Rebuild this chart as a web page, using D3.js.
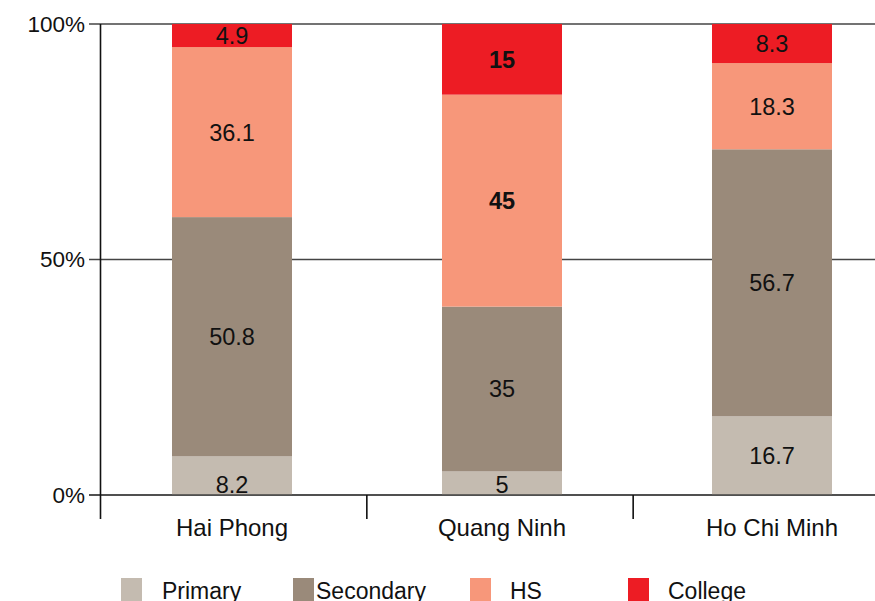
<!DOCTYPE html>
<html>
<head>
<meta charset="utf-8">
<script src="https://cdn.jsdelivr.net/npm/d3@7/dist/d3.min.js"></script>
<style>
  html, body { margin: 0; padding: 0; background: #fff; }
  svg { display: block; font-family: "Liberation Sans", Arial, sans-serif; }
</style>
</head>
<body>
<svg id="chart" width="875" height="601"></svg>
<script>
// Education level shares by city (percent)
const cities = ["Hai Phong", "Quang Ninh", "Ho Chi Minh"];
const levels = ["Primary", "Secondary", "HS", "College"];
const primary   = [8.2, 5, 16.7];
const secondary = [50.8, 35, 56.7];
const hs        = [36.1, 45, 18.3];
const college   = [4.9, 15, 8.3];
const boldCity  = ["Quang Ninh"];
const yTicks = [0, 50, 100];

const colors = {
  Primary: "#c4bbb0",
  Secondary: "#9a8a7a",
  HS: "#f7977a",
  College: "#ed1c24"
};

const rows = cities.map((c, i) => ({
  city: c,
  Primary: primary[i],
  Secondary: secondary[i],
  HS: hs[i],
  College: college[i]
}));

const svg = d3.select("#chart");
const plotLeft = 100, plotTop = 24, plotBottom = 495;
const fontSize = 23.5;

// category slots (for separators) and bar centres
const band = d3.scaleBand().domain(cities).range([plotLeft, 899]);
const xc = d3.scalePoint().domain(cities).range([232, 772]);
const y = d3.scaleLinear().domain([0, 100]).range([plotBottom, plotTop]);
const barW = 120;

// gridlines + y tick marks
svg.append("g").selectAll("line").data(yTicks).join("line")
  .attr("x1", plotLeft - 11).attr("x2", 875)
  .attr("y1", d => y(d)).attr("y2", d => y(d))
  .attr("stroke", "#444").attr("stroke-width", 1.5);

const stack = d3.stack().keys(levels)(rows);

const g = svg.append("g");
stack.forEach(layer => {
  const key = layer.key;
  g.append("g").selectAll("rect").data(layer).join("rect")
    .attr("x", d => xc(d.data.city) - barW / 2)
    .attr("width", barW)
    .attr("y", d => y(d[1]))
    .attr("height", d => y(d[0]) - y(d[1]))
    .attr("fill", colors[key]);
});

// segment value labels
stack.forEach(layer => {
  g.append("g").selectAll("text").data(layer).join("text")
    .attr("x", d => xc(d.data.city))
    .attr("y", d => {
      const c = (y(d[0]) + y(d[1])) / 2;
      return (d[1] - d[0]) < 10 && d[0] === 0 ? Math.max(c, y(d[0]) - 10) : c;
    })
    .attr("dy", "0.36em")
    .attr("text-anchor", "middle")
    .attr("font-size", fontSize)
    .attr("font-weight", d => boldCity.includes(d.data.city) && (layer.key === "HS" || layer.key === "College") ? "bold" : "normal")
    .attr("fill", "#111")
    .text(d => d.data[layer.key]);
});

// baseline over bars
svg.append("line")
  .attr("x1", plotLeft - 11).attr("x2", 875)
  .attr("y1", y(0)).attr("y2", y(0))
  .attr("stroke", "#444").attr("stroke-width", 1.5);

// y axis line
svg.append("line")
  .attr("x1", plotLeft + 0.5).attr("x2", plotLeft + 0.5)
  .attr("y1", plotTop).attr("y2", plotBottom + 24)
  .attr("stroke", "#111").attr("stroke-width", 1.6);

// category separators
svg.append("g").selectAll("line").data(cities.slice(1)).join("line")
  .attr("x1", d => band(d) + 0.5).attr("x2", d => band(d) + 0.5)
  .attr("y1", plotBottom).attr("y2", plotBottom + 24)
  .attr("stroke", "#111").attr("stroke-width", 1.6);

// y tick labels
svg.append("g").selectAll("text").data(yTicks).join("text")
  .attr("x", 85).attr("y", d => y(d))
  .attr("dy", "0.35em")
  .attr("text-anchor", "end")
  .attr("font-size", 22.5)
  .attr("fill", "#111")
  .text(d => d + "%");

// category labels
svg.append("g").selectAll("text").data(cities).join("text")
  .attr("x", d => xc(d))
  .attr("y", 536)
  .attr("text-anchor", "middle")
  .attr("font-size", 24)
  .attr("fill", "#111")
  .text(d => d);

// legend
const legendX = [121, 293, 470, 628];
const legendTextX = [41, 23, 40, 40];
const leg = svg.append("g").selectAll("g").data(levels).join("g")
  .attr("transform", (d, i) => `translate(${legendX[i]},578)`);
leg.append("rect").attr("width", 21).attr("height", 24).attr("fill", d => colors[d]);
leg.append("text")
  .attr("x", (d, i) => legendTextX[i])
  .attr("y", 21)
  .attr("font-size", 23)
  .attr("fill", "#111")
  .text(d => d);
</script>
</body>
</html>
